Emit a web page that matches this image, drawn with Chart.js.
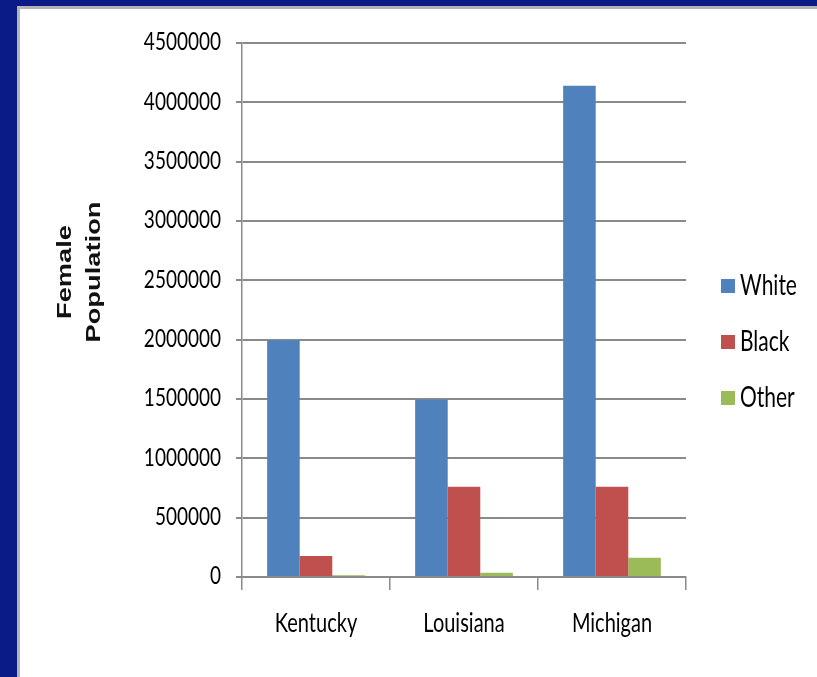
<!DOCTYPE html>
<html>
<head>
<meta charset="utf-8">
<script src="https://cdn.jsdelivr.net/npm/chart.js@4/dist/chart.umd.min.js"></script>
<style>
  html, body { margin: 0; padding: 0; background: #0a1a86; }
  canvas { display: block; }
</style>
</head>
<body>
<canvas id="c" width="817" height="677"></canvas>
<script>
// Female population by race, per state
const states = ['Kentucky', 'Louisiana', 'Michigan'];
const seriesNames = ['White', 'Black', 'Other'];
const white = [1995000, 1495000, 4140000];
const black = [177000, 761000, 761000];
const other = [15000, 36000, 163000];
const yMax = 4500000;
const yStep = 500000;
const yTitle = ['Female', 'Population'];

const colors = ['#4f81bd', '#c0504d', '#9bbb59'];
const labelFont = "Lato, 'Liberation Sans', sans-serif";
const gridColor = '#8a8a8a';
const tall = 1.35; // vertical stretch of the condensed-looking labels

// Navy frame with a white panel
const framePlugin = {
  id: 'frame',
  beforeDraw(chart) {
    const ctx = chart.ctx;
    ctx.save();
    ctx.fillStyle = '#0a1a86';
    ctx.fillRect(0, 0, chart.width, chart.height);
    ctx.fillStyle = '#b4b4b4';
    ctx.fillRect(17, 6, chart.width - 17, chart.height - 6);
    ctx.fillStyle = '#ffffff';
    ctx.fillRect(20, 9, chart.width - 20, chart.height - 9);
    ctx.restore();
  }
};

function tallText(ctx, text, x, y) {
  ctx.save();
  ctx.translate(x, y);
  ctx.scale(1, tall);
  ctx.fillText(text, 0, 0);
  ctx.restore();
}

// Tick labels, rotated axis title and the series key
const extrasPlugin = {
  id: 'extras',
  afterDraw(chart) {
    const ctx = chart.ctx;
    const xs = chart.scales.x, ys = chart.scales.y;

    ctx.save();
    ctx.fillStyle = '#000';
    ctx.textBaseline = 'middle';
    ctx.font = '19px ' + labelFont;
    ctx.textAlign = 'right';
    ys.ticks.forEach(t => {
      tallText(ctx, String(t.value), ys.right - 21, ys.getPixelForValue(t.value) - 1);
    });
    ctx.font = '20px ' + labelFont;
    ctx.textAlign = 'center';
    chart.data.labels.forEach((lab, i) => {
      tallText(ctx, lab, xs.getPixelForTick(i), xs.top + 46);
    });
    ctx.restore();

    ctx.save();
    ctx.fillStyle = '#111';
    ctx.font = "bold 21px 'Liberation Sans', Arial, sans-serif";
    ctx.textAlign = 'center';
    ctx.textBaseline = 'middle';
    const tx = [65, 94];
    yTitle.forEach((t, i) => {
      ctx.save();
      ctx.translate(tx[i], 272);
      ctx.rotate(-Math.PI / 2);
      ctx.scale(1.3, 1);
      ctx.fillText(t, 0, 0);
      ctx.restore();
    });
    ctx.restore();

    ctx.save();
    ctx.font = '21px ' + labelFont;
    ctx.textAlign = 'left';
    ctx.textBaseline = 'middle';
    chart.data.datasets.forEach((ds, i) => {
      const cy = 286 + i * 56;
      ctx.fillStyle = ds.backgroundColor;
      ctx.fillRect(721, cy - 7, 14, 14);
      ctx.fillStyle = '#000';
      tallText(ctx, ds.label, 740, cy);
    });
    ctx.restore();
  }
};

new Chart(document.getElementById('c'), {
  type: 'bar',
  data: {
    labels: states,
    datasets: [
      { label: seriesNames[0], data: white, backgroundColor: colors[0] },
      { label: seriesNames[1], data: black, backgroundColor: colors[1] },
      { label: seriesNames[2], data: other, backgroundColor: colors[2] }
    ]
  },
  options: {
    responsive: false,
    animation: false,
    layout: { padding: { left: 0, right: 131, top: 43, bottom: 0 } },
    datasets: { bar: { categoryPercentage: 0.66, barPercentage: 1.0 } },
    plugins: { legend: { display: false }, tooltip: { enabled: false } },
    scales: {
      x: {
        grid: { drawOnChartArea: false, drawTicks: true, tickLength: 13, color: gridColor, lineWidth: 1.5 },
        border: { color: gridColor, width: 1.5 },
        ticks: { display: false },
        afterFit(s) { s.height = 100; }
      },
      y: {
        min: 0,
        max: yMax,
        grid: { color: gridColor, lineWidth: 2, tickLength: 6 },
        border: { color: gridColor, width: 1.5 },
        ticks: { stepSize: yStep, display: false },
        afterFit(s) { s.width = 242; }
      }
    }
  },
  plugins: [framePlugin, extrasPlugin]
});
</script>
</body>
</html>
